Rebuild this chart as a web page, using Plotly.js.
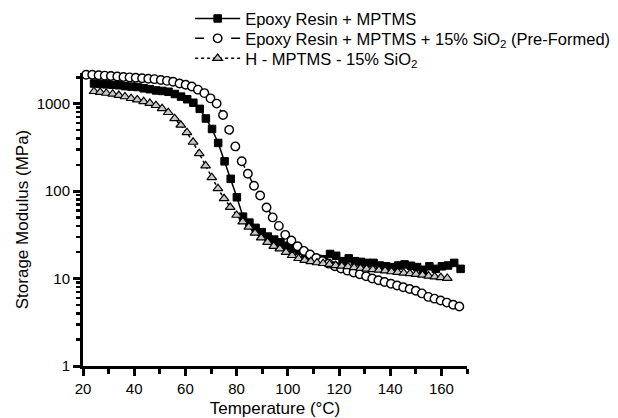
<!DOCTYPE html>
<html>
<head>
<meta charset="utf-8">
<script src="https://cdn.plot.ly/plotly-3.0.1.min.js"></script>
<style>html,body{margin:0;padding:0;background:#fff;}#chart{width:618px;height:418px;}</style>
</head>
<body>
<div id="chart"></div>
<script>
// Series 1: Epoxy Resin + MPTMS (filled squares, solid line)
const tempA = [24.3,26.7,29.2,31.6,34.0,36.4,38.9,41.3,43.7,46.1,48.6,51.0,53.4,55.9,58.3,60.7,63.1,65.6,68.0,70.4,72.8,75.3,77.7,80.1,82.5,85.0,87.4,89.8,92.2,94.7,97.1,99.5,102.0,104.4,106.8,109.2,111.7,114.1,116.5,118.9,121.4,123.8,126.2,128.6,131.1,133.5,135.9,138.4,140.8,143.2,145.6,148.1,150.5,152.9,155.3,157.8,160.2,162.6,165.0,167.5];
const modA = [1698,1679,1660,1641,1622,1585,1567,1549,1496,1462,1413,1396,1365,1288,1202,1122,1023,871,676,513,355,219,138,85,51,43.6,38.0,33.9,30.2,27.9,26.0,23.7,22.1,20.7,19.1,17.4,16.8,16.6,19.1,18.2,15.8,17.0,15.8,15.5,15.1,15.1,14.1,13.8,13.5,14.1,14.5,14.0,13.5,12.6,13.8,12.9,13.8,14.1,15.1,12.9];

// Series 2: Epoxy Resin + MPTMS + 15% SiO2 (Pre-Formed) (open circles, dashed line)
const tempB = [21.2,23.6,26.1,28.5,30.9,33.4,35.8,38.2,40.6,43.1,45.5,47.9,50.4,52.8,55.2,57.7,60.1,62.5,64.9,67.4,69.8,72.2,74.7,77.1,79.5,82.0,84.4,86.8,89.2,91.7,94.1,96.5,99.0,101.4,103.8,106.3,108.7,111.1,113.5,116.0,118.4,120.8,123.3,125.7,128.1,130.6,133.0,135.4,137.8,140.3,142.7,145.1,147.6,150.0,152.4,154.9,157.3,159.7,162.1,164.6,167.0];
const modB = [2138,2138,2113,2089,2065,2042,2018,1995,1972,1950,1928,1905,1862,1820,1778,1698,1641,1567,1445,1318,1148,1000,741,501,324,219,158,115,89,65,50,40,31.6,27.2,23.4,20.7,18.8,17.2,15.8,14.8,13.8,13.0,12.3,11.7,11.2,10.6,10.0,9.55,9.12,8.71,8.32,7.94,7.59,7.24,6.76,6.17,5.89,5.62,5.31,5.01,4.79];

// Series 3: H - MPTMS - 15% SiO2 (grey triangles, dotted line)
const tempC = [24.3,26.7,29.1,31.6,34.0,36.4,38.8,41.2,43.7,46.1,48.5,50.9,53.3,55.8,58.2,60.6,63.0,65.4,67.9,70.3,72.7,75.1,77.5,80.0,82.4,84.8,87.2,89.6,92.1,94.5,96.9,99.3,101.7,104.2,106.6,109.0,111.4,113.8,116.3,118.7,121.1,123.5,125.9,128.4,130.8,133.2,135.6,138.0,140.5,142.9,145.3,147.7,150.1,152.6,155.0,157.4,159.8,162.3];
const modC = [1380,1349,1318,1288,1245,1202,1148,1109,1059,1012,955,881,794,676,569,468,363,269,195,143,107,82.2,65.3,53.1,44.7,38.9,33.1,29.2,26.0,23.4,21.9,20.0,18.4,17.0,16.2,15.7,15.2,14.9,14.6,14.1,13.9,13.7,13.4,13.1,12.9,12.7,12.5,12.3,12.0,11.8,11.6,11.4,11.2,11.0,10.7,10.5,10.3,10.1];

const seriesNames = [
  "Epoxy Resin + MPTMS",
  "Epoxy Resin + MPTMS + 15% SiO<sub>2</sub> (Pre-Formed)",
  "H - MPTMS - 15% SiO<sub>2</sub>"
];
const xTickVals = [20,40,60,80,100,120,140,160];
const yTickVals = [1,10,100,1000];
const yTickText = ["1","10","100","1000"];

const FONT = "Liberation Sans, Arial, sans-serif";

const traces = [
  {x: tempA, y: modA, name: seriesNames[0], legend: "legend", type: "scatter", mode: "lines+markers", cliponaxis: false,
   line: {color: "#000", width: 1.5, dash: "solid"},
   marker: {symbol: "square", size: 7.5, color: "#000", line: {color: "#000", width: 1}}},
  {x: tempB, y: modB, name: seriesNames[1], legend: "legend2", type: "scatter", mode: "lines+markers", cliponaxis: false,
   line: {color: "#000", width: 1.5, dash: "dash"},
   marker: {symbol: "circle", size: 8.5, color: "#fff", line: {color: "#000", width: 1.4}}},
  {x: tempC, y: modC, name: seriesNames[2], legend: "legend3", type: "scatter", mode: "lines+markers", cliponaxis: false,
   line: {color: "#000", width: 1.5, dash: "dot"},
   marker: {symbol: "triangle-up", size: 8.5, color: "#c8c8c8", line: {color: "#000", width: 1.2}}}
];

function legendAt(y) {
  return {x: 0.279, xanchor: "left", y: y, yanchor: "top", itemwidth: 45,
          font: {family: FONT, size: 16.5, color: "#000"},
          bgcolor: "rgba(0,0,0,0)"};
}

const layout = {
  width: 618, height: 418,
  margin: {l: 83, r: 151, t: 73, b: 52, autoexpand: false},
  paper_bgcolor: "#fff", plot_bgcolor: "#fff",
  font: {family: FONT, color: "#000", size: 15},
  showlegend: true,
  legend: legendAt(1.245),
  legend2: legendAt(1.177),
  legend3: legendAt(1.109),
  xaxis: {
    range: [20, 170], showgrid: false, zeroline: false,
    showline: true, linecolor: "#000", linewidth: 3,
    ticks: "outside", ticklen: 7, tickwidth: 3, tickcolor: "#000",
    tickvals: xTickVals, tickfont: {size: 15},
    minor: {dtick: 10, tick0: 20, ticks: "outside", ticklen: 5, tickwidth: 3, tickcolor: "#000", showgrid: false},
    title: {text: "Temperature (°C)", font: {size: 17}, standoff: 8}
  },
  yaxis: {
    type: "log", range: [0, 3.35], showgrid: false, zeroline: false,
    showline: true, linecolor: "#000", linewidth: 3,
    ticks: "outside", ticklen: 7, tickwidth: 3, tickcolor: "#000",
    tickvals: yTickVals, ticktext: yTickText, tickfont: {size: 15},
    minor: {dtick: "D1", ticks: "outside", ticklen: 4, tickwidth: 2.5, tickcolor: "#000", showgrid: false},
    title: {text: "Storage Modulus (MPa)", font: {size: 17}, standoff: 4}
  }
};

Plotly.newPlot("chart", traces, layout, {displayModeBar: false, staticPlot: true});
</script>
</body>
</html>
